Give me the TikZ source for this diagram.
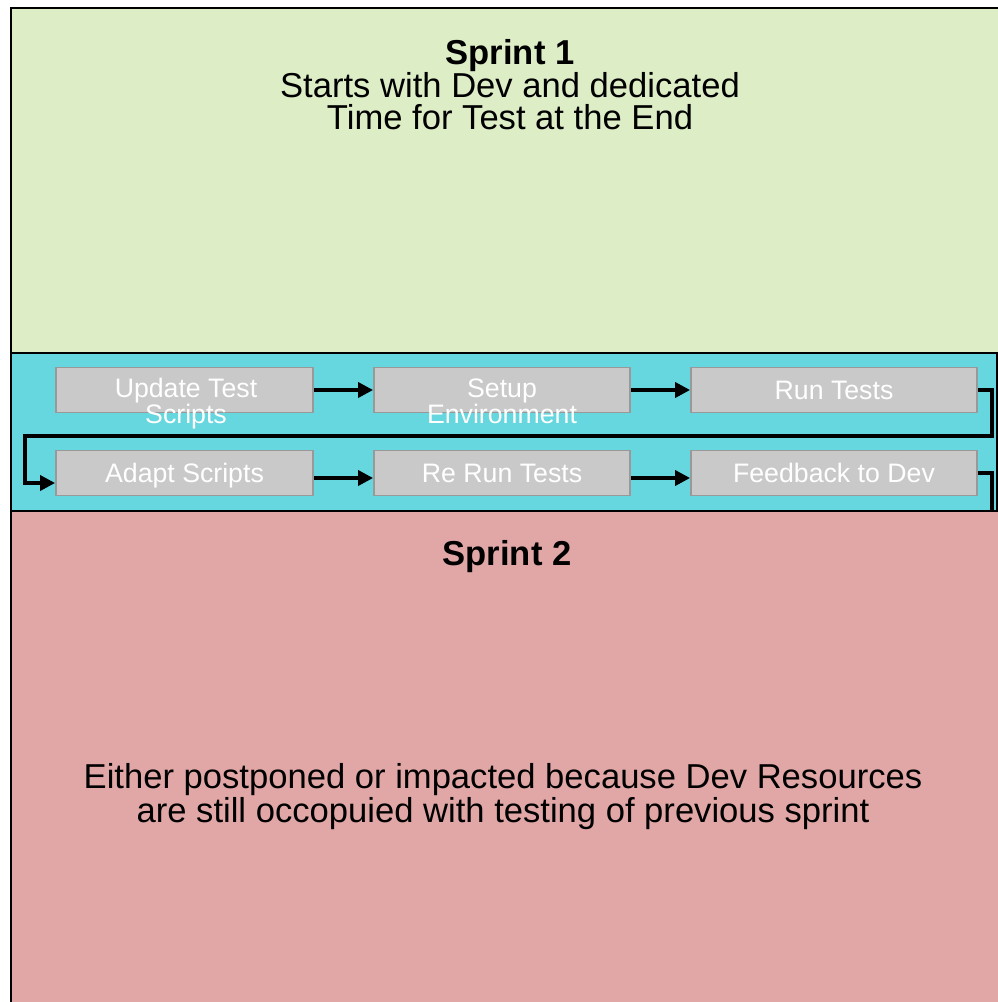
\documentclass[tikz,border=0pt]{standalone}
\usepackage{fontspec}
\setmainfont{Liberation Sans}
\usetikzlibrary{arrows.meta,calc}
\definecolor{sgreen}{HTML}{DDEDC6}
\definecolor{scyan}{HTML}{66D6DF}
\definecolor{sred}{HTML}{E1A7A6}
\definecolor{boxfill}{HTML}{C9C9C9}
\definecolor{boxline}{HTML}{999999}
\tikzset{
  region/.style={draw=black,line width=2.2pt},
  stepbox/.style={draw=boxline,fill=boxfill,line width=1.8pt,minimum height=45pt,inner sep=0pt,
    text=white,font=\fontsize{26.7}{24}\selectfont,align=center},
  boxtext/.style={text=white,font=\fontsize{26.7}{24}\selectfont,align=center,inner sep=0pt},
  bigtext/.style={text=black,font=\fontsize{34.6}{32}\selectfont,align=center,inner sep=0pt},
  conn/.style={draw=black,line width=3.5pt},
  arr/.style={conn,-{Triangle[length=15pt,width=15pt]}}
}
\begin{document}
\begin{tikzpicture}[x=1pt,y=-1pt]
\useasboundingbox (0,0) rectangle (998,1002);
\clip (0,0) rectangle (998,1002);
% regions
\draw[region,fill=sgreen] (11,8) rectangle (1020,353);
\draw[region,fill=scyan] (11,353) rectangle (997,511);
\node[bigtext] (t1) at (510,85) {\textbf{Sprint 1}\\Starts with Dev and dedicated\\Time for Test at the End};
% steps
\node[stepbox,minimum width=257pt] (u1) at (184.5,390) {};
\node[stepbox,minimum width=256pt] (s1) at (502,390) {};
\node[stepbox,minimum width=286pt] (r1) at (834,390) {Run Tests};
\node[stepbox,minimum width=257pt,text depth=0pt] (a1) at (184.5,473) {Adapt Scripts};
\node[stepbox,minimum width=256pt] (rr) at (502,473) {Re Run Tests};
\node[stepbox,minimum width=286pt] (f1) at (834,473) {Feedback to Dev};
\node[boxtext] (u1t) at ($(u1.center)+(1.5,14)$) {Update Test\\Scripts};
\node[boxtext] (s1t) at ($(s1.center)+(0,11.3)$) {Setup\\Environment};
% connectors
\draw[arr] (u1.east) -- (s1.west);
\draw[arr] (s1.east) -- (r1.west);
\coordinate (turnR) at (992,436);
\coordinate (turnL) at (25,436);
\draw[arr] (r1.east) -| (turnR) -- (turnL) |- ($(a1.west)+(0,10)$);
\draw[arr] ($(a1.east)+(0,5)$) -- ($(rr.west)+(0,5)$);
\draw[arr] ($(rr.east)+(0,5)$) -- ($(f1.west)+(0,5)$);
\coordinate (fend) at (992,515);
\draw[conn] (f1.east) -| (fend);
% sprint 2
\draw[region,fill=sred] (11,511) rectangle (1020,1020);
\node[bigtext,anchor=base] (t2) at (507,565) {\textbf{Sprint 2}};
\node[bigtext] (t3) at (503,796.5) {Either postponed or impacted because Dev Resources\\are still occopuied with testing of previous sprint};
\end{tikzpicture}
\end{document}
